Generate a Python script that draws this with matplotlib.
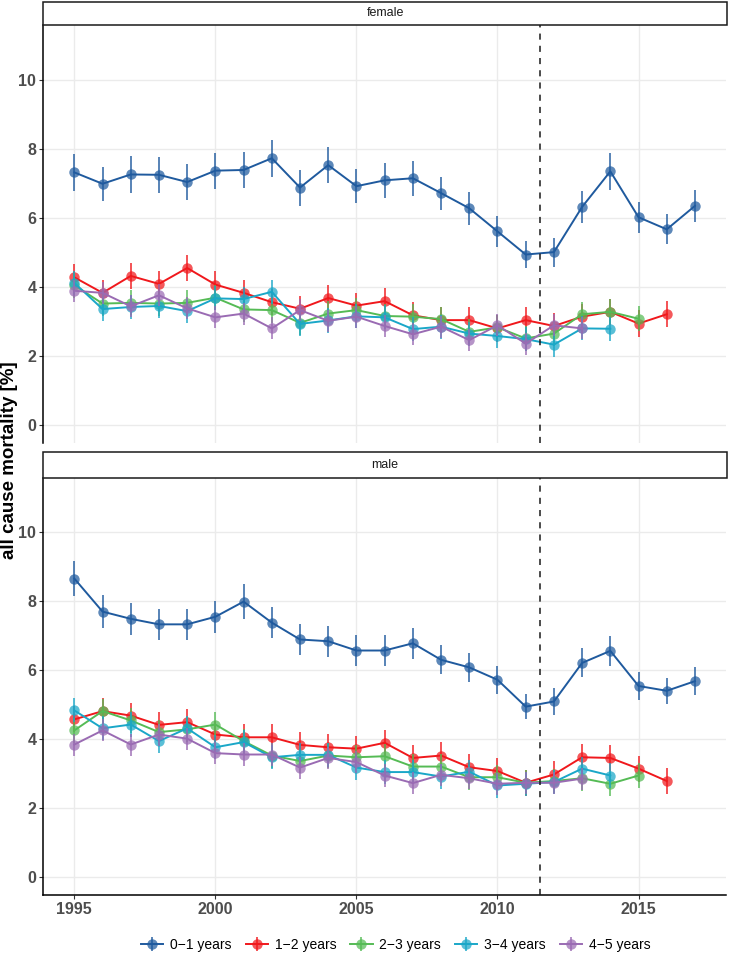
import matplotlib
matplotlib.use("Agg")
import matplotlib.pyplot as plt
from matplotlib.patches import Rectangle

# years per age group (follow-up shortens for older groups)
years_01 = list(range(1995, 2018))
years_12 = list(range(1995, 2017))
years_23 = list(range(1995, 2016))
years_34 = list(range(1995, 2015))
years_45 = list(range(1995, 2014))

groups = ["0\u22121 years", "1\u22122 years", "2\u22123 years", "3\u22124 years", "4\u22125 years"]
colors = ["#1f5a9e", "#f0181c", "#55bb55", "#1aa7c8", "#9a6bb3"]
sexes = ["female", "male"]

# female mortality [%]
female_01 = [7.31, 6.98, 7.25, 7.24, 7.03, 7.36, 7.38, 7.72, 6.87, 7.52, 6.91, 7.08,
             7.14, 6.71, 6.27, 5.60, 4.93, 5.00, 6.31, 7.34, 6.01, 5.66, 6.34]
female_12 = [4.27, 3.82, 4.31, 4.08, 4.54, 4.06, 3.82, 3.55, 3.36, 3.67, 3.45, 3.58,
             3.17, 3.03, 3.03, 2.79, 3.03, 2.86, 3.13, 3.27, 2.93, 3.20]
female_23 = [4.04, 3.51, 3.53, 3.51, 3.53, 3.68, 3.34, 3.32, 2.95, 3.22, 3.32, 3.15,
             3.13, 3.06, 2.69, 2.82, 2.50, 2.64, 3.20, 3.27, 3.07]
female_34 = [4.11, 3.35, 3.41, 3.44, 3.29, 3.66, 3.64, 3.85, 2.92, 3.02, 3.14, 3.11,
             2.77, 2.84, 2.64, 2.57, 2.48, 2.32, 2.79, 2.78]
female_45 = [3.88, 3.82, 3.43, 3.75, 3.37, 3.11, 3.22, 2.79, 3.32, 3.01, 3.13, 2.86,
             2.62, 2.84, 2.45, 2.88, 2.35, 2.88, 2.79]

# male mortality [%]
male_01 = [8.66, 7.70, 7.49, 7.33, 7.33, 7.55, 7.99, 7.38, 6.89, 6.84, 6.57, 6.57,
           6.78, 6.30, 6.08, 5.72, 4.94, 5.09, 6.21, 6.56, 5.54, 5.40, 5.68]
male_12 = [4.57, 4.81, 4.68, 4.41, 4.49, 4.13, 4.05, 4.05, 3.83, 3.76, 3.72, 3.89,
           3.45, 3.52, 3.18, 3.07, 2.73, 2.97, 3.47, 3.45, 3.14, 2.78]
male_23 = [4.25, 4.81, 4.54, 4.20, 4.28, 4.42, 3.94, 3.52, 3.36, 3.52, 3.47, 3.50,
           3.20, 3.20, 2.89, 2.89, 2.73, 2.78, 2.86, 2.70, 2.94]
male_34 = [4.83, 4.31, 4.42, 3.94, 4.31, 3.76, 3.91, 3.47, 3.54, 3.54, 3.17, 3.04,
           3.04, 2.91, 3.05, 2.65, 2.70, 2.75, 3.14, 2.94]
male_45 = [3.84, 4.25, 3.84, 4.13, 4.01, 3.59, 3.55, 3.55, 3.17, 3.45, 3.33, 2.94,
           2.72, 2.96, 2.86, 2.70, 2.73, 2.73, 2.85]

# half-width of the confidence intervals
female_err_01 = [0.53, 0.50, 0.53, 0.52, 0.51, 0.52, 0.52, 0.54, 0.52, 0.52, 0.50, 0.50,
                 0.50, 0.48, 0.47, 0.45, 0.40, 0.42, 0.47, 0.53, 0.45, 0.43, 0.46]
male_err_01 = [0.51, 0.48, 0.47, 0.46, 0.46, 0.47, 0.50, 0.46, 0.45, 0.45, 0.44, 0.44,
               0.45, 0.42, 0.41, 0.40, 0.37, 0.38, 0.42, 0.44, 0.40, 0.38, 0.40]
err_other = [0.38, 0.36, 0.35, 0.32]

cut_year = 2011.5

panels = {
    "female": [female_01, female_12, female_23, female_34, female_45],
    "male": [male_01, male_12, male_23, male_34, male_45],
}
blue_err = {"female": female_err_01, "male": male_err_01}
year_lists = [years_01, years_12, years_23, years_34, years_45]

plt.rcParams["font.family"] = ["Liberation Sans", "DejaVu Sans"]

W, H = 729, 966
fig = plt.figure(figsize=(W / 100, H / 100), dpi=100)

left, right = 43.3 / W, 726 / W
panel_px = [(25, 443, 2, 25), (478, 895, 452.3, 477.7)]

axes = []
handles = []
for i, sex in enumerate(sexes):
    top, bot, s_top, s_bot = panel_px[i]
    ax = fig.add_axes([left, 1 - bot / H, right - left, (bot - top) / H])
    axes.append(ax)

    # strip label
    fig.patches.append(Rectangle((left, 1 - s_bot / H), (727 - 43.3) / W, (s_bot - s_top) / H,
                                 transform=fig.transFigure, facecolor="white",
                                 edgecolor="#1a1a1a", linewidth=1.1))
    fig.text((left + 727 / W) / 2, 1 - (s_top + s_bot) / 2 / H, sex, ha="center", va="center",
             fontsize=9, color="#1a1a1a")

    for g in range(5):
        vals = panels[sex][g]
        err = blue_err[sex] if g == 0 else [err_other[g - 1]] * len(vals)
        c = matplotlib.colors.to_rgb(colors[g])
        eb = ax.errorbar(year_lists[g], vals, yerr=err, fmt="-o", color=c,
                         ecolor=c + (0.75,), elinewidth=1.4, lw=1.4, capsize=0,
                         markersize=7.5, markerfacecolor=c + (0.72,),
                         markeredgecolor=c + (0.0,), zorder=3 + g)
        if i == 0:
            handles.append(eb)

    ax.axvline(cut_year, color="#1a1a1a", linestyle=(0, (4, 4)), linewidth=1.1, zorder=10)

    ax.set_xlim(1993.9, 2018.1)
    ax.set_ylim(-0.53, 11.58)
    ax.set_xticks([1995, 2000, 2005, 2010, 2015])
    ax.set_yticks([0, 2, 4, 6, 8, 10])
    ax.grid(True, color="#ebebeb", linewidth=1.0)
    ax.set_axisbelow(True)
    for s in ["top", "right"]:
        ax.spines[s].set_visible(False)
    ax.spines["left"].set_color("black")
    ax.spines["left"].set_linewidth(1.1)
    ax.tick_params(axis="both", length=3, width=0.8, color="#333333", labelcolor="#4d4d4d",
                   labelsize=11.5, pad=2)
    for lab in ax.get_yticklabels() + ax.get_xticklabels():
        lab.set_fontweight("bold")
    if i == 0:
        ax.spines["bottom"].set_visible(False)
        ax.tick_params(axis="x", length=0, labelbottom=False)
    else:
        ax.spines["bottom"].set_color("black")
        ax.spines["bottom"].set_linewidth(1.1)

fig.text(0.0125, 1 - 460 / H, "all cause mortality [%]", rotation=90, ha="center", va="center",
         fontsize=13.5, fontweight="bold", color="black")

fig.legend(handles, groups, loc="center", bbox_to_anchor=(0.543, 1 - 945 / H), ncol=5,
           frameon=False, fontsize=10, handlelength=1.6, handletextpad=0.5,
           columnspacing=1.0)

fig.savefig("out.png", dpi=100)
